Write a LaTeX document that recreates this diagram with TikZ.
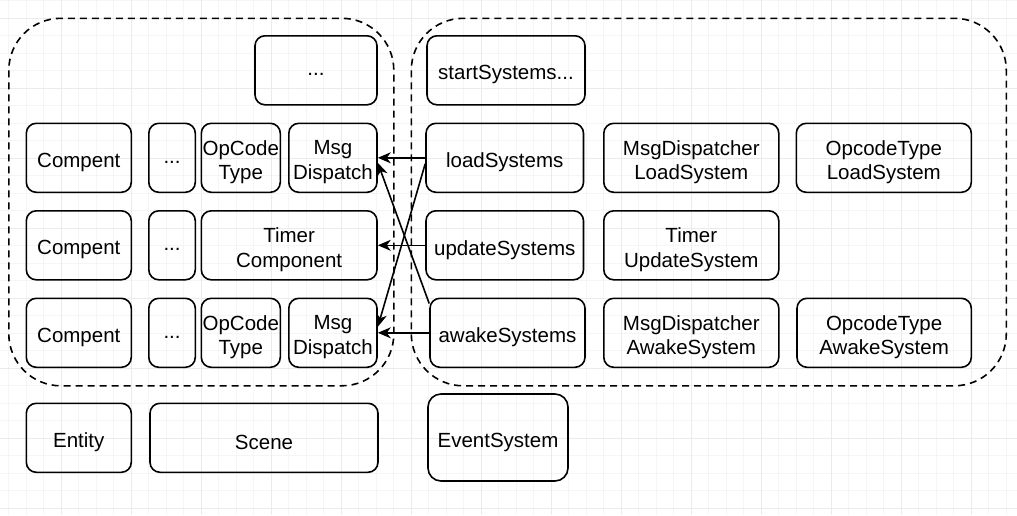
\documentclass[tikz,border=0pt]{standalone}
\usepackage{fontspec}
\setmainfont{Liberation Sans}
\usetikzlibrary{arrows.meta}
\tikzset{
  box/.style={draw=black, line width=1.6pt, rounded corners=10pt, inner sep=0pt},
  txt/.style={inner sep=0pt, align=center, font=\fontsize{20.5}{24.6}\selectfont, text=black},
  group/.style={draw=black, line width=1.6pt, dash pattern=on 7pt off 5pt, rounded corners=52pt},
  conn/.style={draw=black, line width=1.6pt, -{Stealth[length=13pt,width=11pt,inset=4pt]}},
  minorgrid/.style={draw=black!4, line width=0.8pt},
  majorgrid/.style={draw=black!8, line width=0.9pt}
}
\newcommand\bx[6]{%
  \node[box,minimum width={#4-#2},minimum height={#5-#3}] (#1) at ({(#2+#4)/2},{(#3+#5)/2}) {};
  \node[txt] (#1-t) at ([yshift=-4.5pt]#1.center) {#6};}
\begin{document}
\begin{tikzpicture}[x=1pt,y=-1pt]
\useasboundingbox[fill=white] (0,0) rectangle (1017,515);
% grid
\foreach \x in {8.8,26.3,...,1017} \draw[minorgrid] (\x,0) -- (\x,515);
\foreach \y in {0.8,18.3,...,515} \draw[minorgrid] (0,\y) -- (1017,\y);
\foreach \x in {61.3,131.3,...,1017} \draw[majorgrid] (\x,0) -- (\x,515);
\foreach \y in {18.3,88.3,...,515} \draw[majorgrid] (0,\y) -- (1017,\y);
% groups
\draw[group] (8.8,18.3) rectangle (393.8,385.8);
\draw[group] (411.3,18.3) rectangle (1006.3,385.8);
% left side
\bx{dots0}{255}{35.8}{377}{104.8}{...}
\bx{comp1}{26.3}{123.3}{131.3}{192.3}{Compent}
\bx{dots1}{148.8}{123.3}{195.3}{192.3}{...}
\bx{op1}{201.3}{123.3}{280.3}{192.3}{OpCode\\Type}
\bx{msg1}{288.8}{123.3}{377}{192.3}{Msg\\Dispatch}
\bx{comp2}{26.3}{210.8}{131.3}{279.8}{Compent}
\bx{dots2}{148.8}{210.8}{195.3}{279.8}{...}
\bx{timer}{201.3}{210.8}{377}{279.8}{Timer\\Component}
\bx{comp3}{26.3}{298.3}{131.3}{367.3}{Compent}
\bx{dots3}{148.8}{298.3}{195.3}{367.3}{...}
\bx{op3}{201.3}{298.3}{280.3}{367.3}{OpCode\\Type}
\bx{msg3}{288.8}{298.3}{377}{367.3}{Msg\\Dispatch}
% right side
\bx{start}{427}{35.8}{585}{104.8}{startSystems...}
\bx{load}{426}{123.3}{583.5}{192.3}{loadSystems}
\bx{mdl}{603.8}{123.3}{778.8}{192.3}{MsgDispatcher\\LoadSystem}
\bx{otl}{796.3}{123.3}{971.3}{192.3}{OpcodeType\\LoadSystem}
\bx{update}{426}{210.8}{583.5}{279.8}{updateSystems}
\bx{tus}{603.8}{210.8}{778.8}{279.8}{Timer\\UpdateSystem}
\bx{awake}{430}{298.3}{585}{367.3}{awakeSystems}
\bx{mda}{603.8}{298.3}{778.8}{367.3}{MsgDispatcher\\AwakeSystem}
\bx{ota}{797}{298.3}{971.3}{367.3}{OpcodeType\\AwakeSystem}
% bottom
\bx{entity}{26.3}{403.3}{131.3}{472.3}{Entity}
\bx{scene}{150}{403.3}{378}{472.3}{Scene}
\node[box,rounded corners=13pt,minimum width=140,minimum height=87] (event) at (498,437.5) {};
\node[txt] (event-t) at ([yshift=-4.5pt]event.center) {EventSystem};
% connectors
\draw[conn] (load.west) -- (msg1.east);
\draw[conn] (update.west) -- (timer.east);
\draw[conn] (awake.west) -- (msg3.east);
\draw[conn] ([yshift=-6pt]load.west) -- ([yshift=6pt]msg3.east);
\draw[conn] ([yshift=-6pt]awake.north west) -- ([yshift=-5pt]msg1.east);
\end{tikzpicture}
\end{document}
